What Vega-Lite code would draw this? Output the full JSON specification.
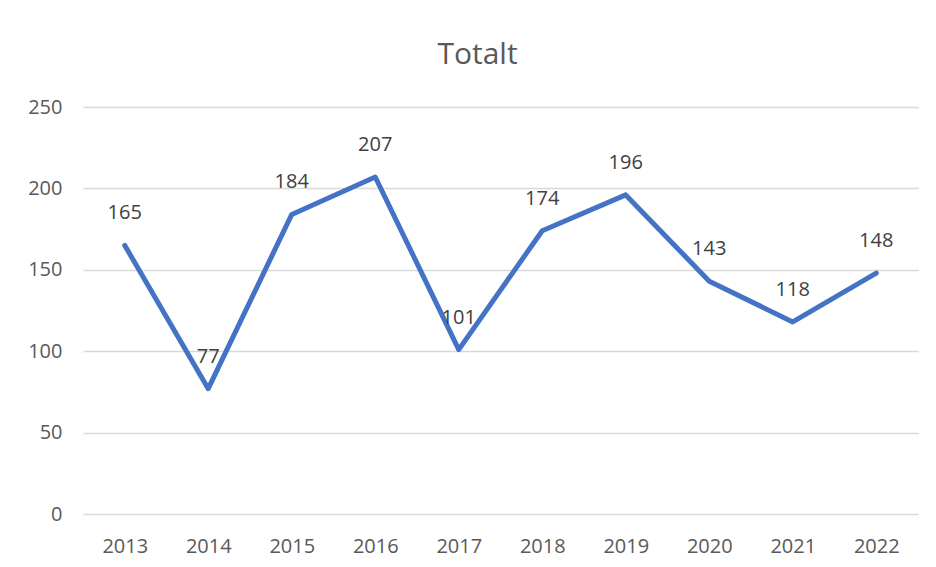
{
  "$schema": "https://vega.github.io/schema/vega-lite/v6.json",
  "width": 835,
  "height": 407,
  "autosize": {"type": "none"},
  "padding": {"left": 83, "top": 107, "right": 18, "bottom": 46},
  "background": "white",
  "title": {
    "text": "Totalt",
    "font": "Open Sans",
    "fontSize": 30,
    "fontWeight": "normal",
    "color": "#595959",
    "anchor": "middle",
    "dx": -23,
    "baseline": "alphabetic",
    "offset": 3
  },
  "config": {
    "view": {"stroke": null},
    "font": "Open Sans"
  },
  "data": {
    "values": [
      {"year": "2013", "value": 165},
      {"year": "2014", "value": 77},
      {"year": "2015", "value": 184},
      {"year": "2016", "value": 207},
      {"year": "2017", "value": 101},
      {"year": "2018", "value": 174},
      {"year": "2019", "value": 196},
      {"year": "2020", "value": 143},
      {"year": "2021", "value": 118},
      {"year": "2022", "value": 148}
    ]
  },
  "encoding": {
    "x": {
      "field": "year",
      "type": "ordinal",
      "scale": {"type": "point", "padding": 0.5},
      "axis": {
        "title": null,
        "labelAngle": 0,
        "labelFont": "Open Sans",
        "labelFontSize": 20,
        "labelColor": "#595959",
        "labelPadding": 22,
        "ticks": false,
        "domain": false,
        "grid": false
      }
    },
    "y": {
      "field": "value",
      "type": "quantitative",
      "scale": {"domain": [0, 250], "nice": false},
      "axis": {
        "title": null,
        "values": [0, 50, 100, 150, 200, 250],
        "labelFont": "Open Sans",
        "labelFontSize": 20,
        "labelColor": "#595959",
        "labelPadding": 21,
        "ticks": false,
        "domain": false,
        "grid": true,
        "gridColor": "#d9d9d9",
        "gridWidth": 1.5
      }
    }
  },
  "layer": [
    {
      "mark": {
        "type": "line",
        "color": "#4472C4",
        "strokeWidth": 5,
        "strokeCap": "round",
        "strokeJoin": "round"
      }
    },
    {
      "mark": {
        "type": "text",
        "font": "Open Sans",
        "fontSize": 20,
        "color": "#404040",
        "baseline": "middle",
        "dy": -32
      },
      "encoding": {
        "text": {"field": "value", "type": "quantitative"}
      }
    }
  ]
}
